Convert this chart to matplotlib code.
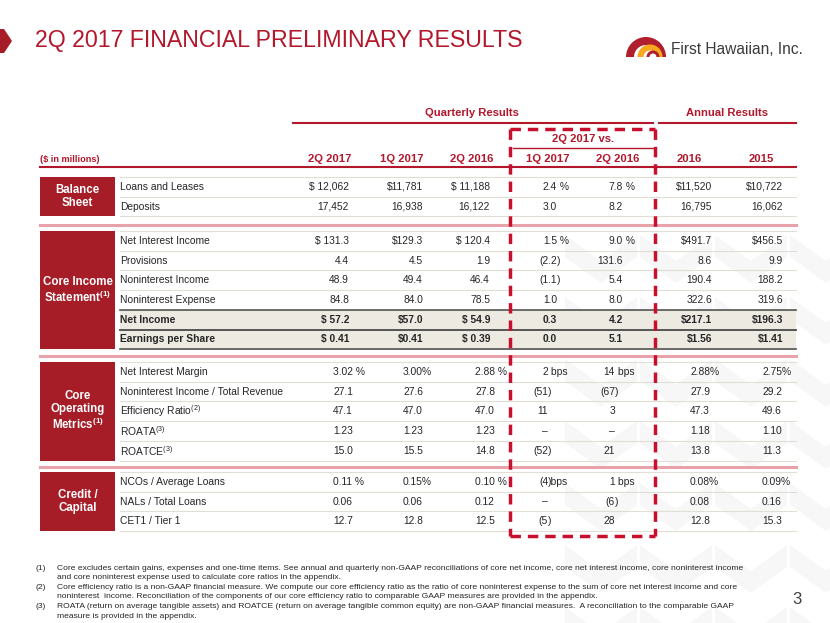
import matplotlib.pyplot as plt
from matplotlib.patches import Rectangle, Polygon, Wedge

plt.rcParams['font.family'] = ['Liberation Sans', 'DejaVu Sans']
plt.rcParams['mathtext.fontset'] = 'custom'
plt.rcParams['mathtext.rm'] = 'Liberation Sans'
plt.rcParams['mathtext.bf'] = 'Liberation Sans:bold'
plt.rcParams['mathtext.it'] = 'Liberation Sans:italic'

# ---- data ----
title = '2Q 2017 FINANCIAL PRELIMINARY RESULTS'
section_titles = ['Balance\nSheet', 'Core Income\nStatement$^{\\mathbf{(1)}}$',
                  'Core\nOperating\nMetrics$^{\\mathbf{(1)}}$', 'Credit /\nCapital']
section_sizes = [2, 6, 5, 3]
row_labels = ['Loans and Leases', 'Deposits',
              'Net Interest Income', 'Provisions', 'Noninterest Income', 'Noninterest Expense',
              'Net Income', 'Earnings per Share',
              'Net Interest Margin', 'Noninterest Income / Total Revenue', 'Efficiency Ratio$^{(2)}$',
              'ROATA$^{(3)}$', 'ROATCE$^{(3)}$',
              'NCOs / Average Loans', 'NALs / Total Loans', 'CET1 / Tier 1']
bold_rows = ['Net Income', 'Earnings per Share']

col_headers = ['2Q 2017', '1Q 2017', '2Q 2016', '1Q 2017', '2Q 2016', '2016', '2015']
q2_2017 = ['$ 12,062', '17,452', '$ 131.3', '4.4', '48.9', '84.8', '$ 57.2', '$ 0.41',
           '3.02 %', '27.1', '47.1', '1.23', '15.0', '0.11 %', '0.06', '12.7']
q1_2017 = ['$11,781', '16,938', '$129.3', '4.5', '49.4', '84.0', '$57.0', '$0.41',
           '3.00%', '27.6', '47.0', '1.23', '15.5', '0.15%', '0.06', '12.8']
q2_2016 = ['$ 11,188', '16,122', '$ 120.4', '1.9', '46.4', '78.5', '$ 54.9', '$ 0.39',
           '2.88 %', '27.8', '47.0', '1.23', '14.8', '0.10 %', '0.12', '12.5']
vs_1q17 = ['2.4 %', '3.0', '1.5 %', '(2.2)', '(1.1)', '1.0', '0.3', '0.0',
           '2 bps', '(51)', '11', '–', '(52)', '(4)bps', '–', '(5)']
vs_2q16 = ['7.8 %', '8.2', '9.0 %', '131.6', '5.4', '8.0', '4.2', '5.1',
           '14 bps', '(67)', '3', '–', '21', '1 bps', '(6)', '28']
fy_2016 = ['$11,520', '16,795', '$491.7', '8.6', '190.4', '322.6', '$217.1', '$1.56',
           '2.88%', '27.9', '47.3', '1.18', '13.8', '0.08%', '0.08', '12.8']
fy_2015 = ['$10,722', '16,062', '$456.5', '9.9', '188.2', '319.6', '$196.3', '$1.41',
           '2.75%', '29.2', '49.6', '1.10', '11.3', '0.09%', '0.16', '15.3']
columns = [q2_2017, q1_2017, q2_2016, vs_1q17, vs_2q16, fy_2016, fy_2015]

footnotes = [
    ('(1)', ['Core excludes certain gains, expenses and one-time items. See annual and quarterly non-GAAP reconciliations of core net income, core net interest income, core noninterest income',
             'and core noninterest expense used to calculate core ratios in the appendix.']),
    ('(2)', ['Core efficiency ratio is a non-GAAP financial measure. We compute our core efficiency ratio as the ratio of core noninterest expense to the sum of core net interest income and core',
             'noninterest  income. Reconciliation of the components of our core efficiency ratio to comparable GAAP measures are provided in the appendix.']),
    ('(3)', ['ROATA (return on average tangible assets) and ROATCE (return on average tangible common equity) are non-GAAP financial measures.  A reconciliation to the comparable GAAP',
             'measure is provided in the appendix.']),
]

# ---- style ----
RED = '#B3172B'
BOX = '#A61C27'
PINK = '#E8A3AA'
GRID = '#E2DED7'
BEIGE = '#EDEAE2'
TXT = '#262626'

fig = plt.figure(figsize=(8.3, 6.23), dpi=100)
ax = fig.add_axes([0, 0, 1, 1])
ax.set_xlim(0, 830)
ax.set_ylim(623, 0)
ax.axis('off')

# faint chevron watermark
for cx in [565, 640, 715, 790]:
    for cy in range(235, 650, 62):
        ax.add_patch(Polygon([(cx, cy), (cx + 36, cy + 26), (cx + 72, cy), (cx + 72, cy + 22),
                              (cx + 36, cy + 48), (cx, cy + 22)], closed=True,
                             facecolor='#F7F7F7', edgecolor='none', zorder=0))

# header
ax.add_patch(Polygon([(0, 29), (4, 29), (12, 41), (4, 53), (0, 53)], closed=True, facecolor=BOX, edgecolor='none'))
ax.text(35, 41, title, fontsize=16.7, color=RED, va='center', ha='left')

# logo
ax.add_patch(Wedge((646, 57), 20, 180, 360, width=8, facecolor='#B01F2D', edgecolor='none'))
ax.add_patch(Wedge((650, 57), 12.5, 180, 360, width=6, facecolor='#F6A91D', edgecolor='none'))
ax.add_patch(Wedge((653, 57), 6.5, 180, 360, width=3, facecolor='#B01F2D', edgecolor='none'))
ax.text(671, 49, 'First Hawaiian, Inc.', fontsize=11.2, color='#3A3A3A', va='center', ha='left')

# group headers
ax.text(472, 113, 'Quarterly Results', fontsize=8.1, fontweight='bold', color=RED, ha='center', va='center')
ax.text(727, 113, 'Annual Results', fontsize=8.1, fontweight='bold', color=RED, ha='center', va='center')
ax.plot([293, 653], [123, 123], color=RED, lw=1.5)
ax.plot([659, 796], [123, 123], color=RED, lw=1.5)
ax.text(583, 139, '2Q 2017 vs.', fontsize=8.1, fontweight='bold', color=RED, ha='center', va='center')
ax.plot([513, 653], [148, 148], color=RED, lw=1.0)

ax.text(40, 159, '($ in millions)', fontsize=6.6, fontweight='bold', color=RED, ha='left', va='center')
head_x = [351, 423, 493, 548, 618, 689, 761]
head_ha = ['right', 'right', 'right', 'center', 'center', 'center', 'center']
for name, x, ha in zip(col_headers, head_x, head_ha):
    ax.text(x, 159, name, fontsize=8.1, fontweight='bold', color=RED, ha=ha, va='center')
ax.plot([40, 796], [167, 167], color=RED, lw=1.5)

# table body
section_tops = [177, 231, 362, 472]
row_h = 19.7
anchor_top = [349, 423, 490, 557, 623, 712, 783]
anchor_bottom = [333, 403, 475, 548, 615, 690, 762]
tails = [')bps', ' bps', ' %', ')', '%']


def split_cell(s):
    for t in tails:
        if s.endswith(t) and len(s) > len(t):
            return s[:-len(t)], t
    return s, ''


row = 0
for si, (name, n) in enumerate(zip(section_titles, section_sizes)):
    top = section_tops[si]
    ax.add_patch(Rectangle((40, top), 75, n * row_h, facecolor=BOX, edgecolor='none', zorder=2))
    ax.text(77.5, top + n * row_h / 2, name, fontsize=8.3, fontweight='bold', color='white',
            ha='center', va='center', linespacing=1.15, zorder=3)
    for k in range(n + 1):
        ax.plot([120, 796], [top + k * row_h] * 2, color=GRID, lw=0.8, zorder=1)
    for k in range(n):
        y = top + (k + 0.5) * row_h
        label = row_labels[row]
        bold = label in bold_rows
        weight = 'bold' if bold else 'normal'
        if bold:
            ax.add_patch(Rectangle((120, top + k * row_h), 676, row_h, facecolor=BEIGE, edgecolor='none', zorder=0.5))
            ax.plot([120, 796], [top + k * row_h] * 2, color='#555555', lw=1.2, zorder=1.5)
            ax.plot([120, 796], [top + (k + 1) * row_h] * 2, color='#555555', lw=1.2, zorder=1.5)
        ax.text(120, y, label, fontsize=7.4, fontweight=weight, color=TXT, ha='left', va='center')
        for ci, col in enumerate(columns):
            val = col[row]
            if si < 2:
                core, tail = split_cell(val)
                x = anchor_top[ci]
            elif ci in (3, 4):
                core, tail = split_cell(val)
                x = anchor_bottom[ci]
            else:
                ax.text(anchor_bottom[ci], y, val, fontsize=7.4, fontweight=weight, color=TXT, ha='left', va='center')
                continue
            ax.text(x, y, core, fontsize=7.4, fontweight=weight, color=TXT, ha='right', va='center')
            if tail:
                ax.text(x, y, tail, fontsize=7.4, fontweight=weight, color=TXT, ha='left', va='center')
        row += 1

for y in [225, 356, 467]:
    ax.plot([40, 796], [y, y], color=PINK, lw=2.2, zorder=1)

# dashed comparison box
dash = dict(color='#C8102E', lw=2.5, linestyle=(0, (3, 2)), zorder=4)
ax.plot([510, 655], [129, 129], **dash)
ax.plot([510, 655], [536, 536], **dash)
ax.plot([510, 510], [129, 536], **dash)
ax.plot([655, 655], [129, 536], **dash)

# footnotes
fy = 568
for num, lines in footnotes:
    ax.text(35, fy, num, fontsize=6.1, color=TXT, ha='left', va='center')
    for line in lines:
        ax.text(57, fy, line, fontsize=6.1, color=TXT, ha='left', va='center')
        fy += 9.6

ax.text(797, 600, '3', fontsize=12, color='#404040', ha='center', va='center')

fig.savefig('out.png', dpi=100)
